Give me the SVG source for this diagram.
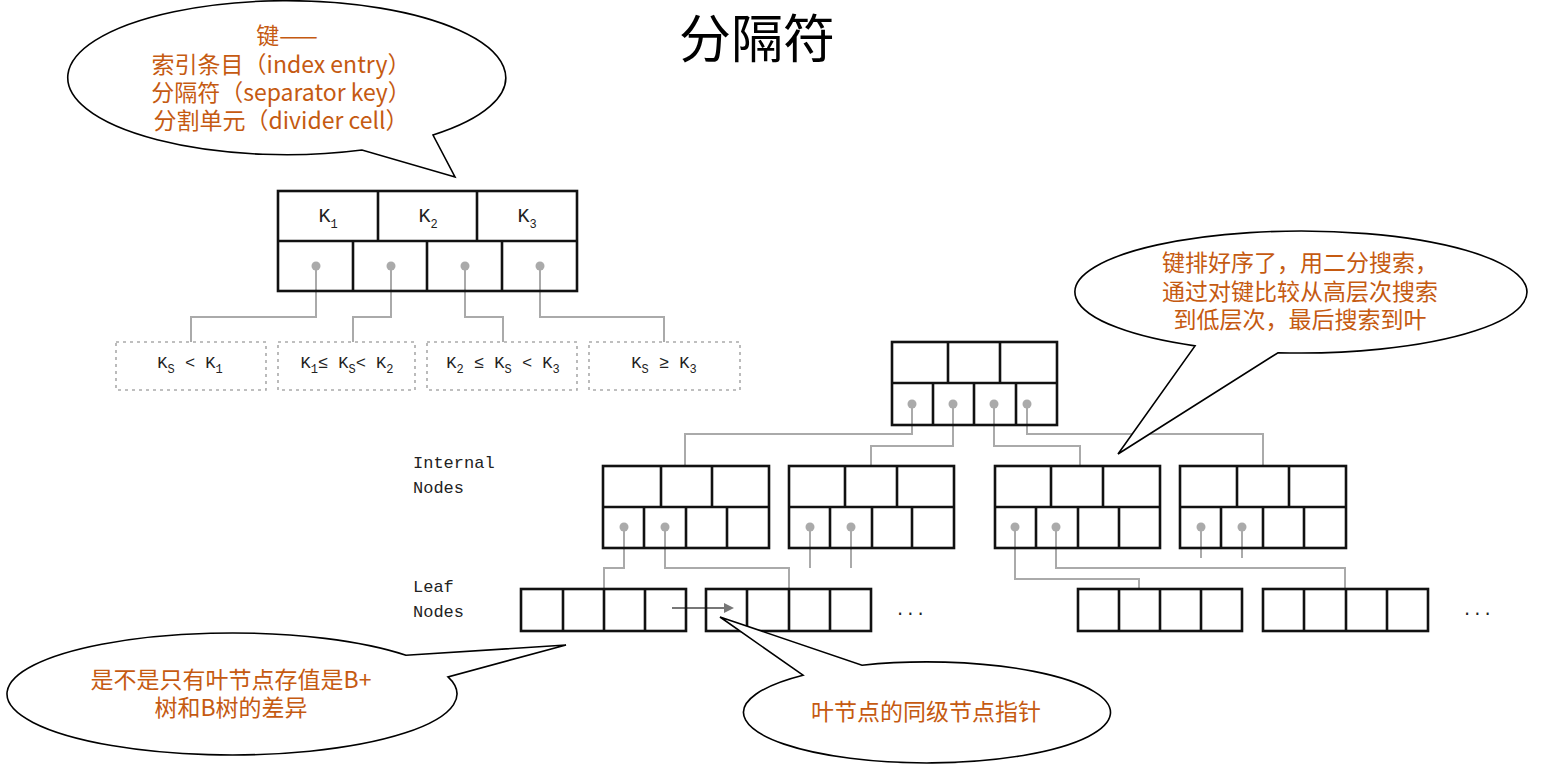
<svg xmlns="http://www.w3.org/2000/svg" width="1545" height="770" viewBox="0 0 1545 770">
<style>
.cell{fill:none;stroke:#111;stroke-width:2.6}
.div{stroke:#111;stroke-width:2.6;fill:none}
.con{stroke:#aaa;stroke-width:2;fill:none}
.dot{fill:#aaa}
.dash{fill:none;stroke:#aaa;stroke-width:1.6;stroke-dasharray:3 4}
.mono{font-family:"Liberation Mono","DejaVu Sans Mono",monospace;fill:#222}
.key{font-size:20px;text-anchor:middle}
.cond{font-size:17px;text-anchor:middle}
.lbl{font-size:17px}
.sub{font-size:12px}
.bub{fill:#fff;stroke:#000;stroke-width:1.6}
.cn{font-family:"Microsoft YaHei","Noto Sans CJK SC","Noto Sans",sans-serif;font-size:23px;fill:#c55a11;text-anchor:middle}
</style>
<defs>
<marker id="ah" markerWidth="10" markerHeight="10" refX="8" refY="5" orient="auto" markerUnits="userSpaceOnUse">
<path d="M0,0 L10,5 L0,10 Z" fill="#777"/>
</marker>
</defs>
<rect width="1545" height="770" fill="#fff"/>
<text x="757" y="58" font-family="'Microsoft YaHei','Noto Sans CJK SC',sans-serif" font-size="52" text-anchor="middle" fill="#000">分隔符</text>

<g id="connectors">
<path class="con" d="M316,266 V317 H191 V342"/>
<path class="con" d="M391,266 V317 H353 V342"/>
<path class="con" d="M465,266 V317 H503 V342"/>
<path class="con" d="M540,266 V317 H664 V342"/>
<path class="con" d="M912,404 V434 H685 V466"/>
<path class="con" d="M953,404 V446 H871 V466"/>
<path class="con" d="M994,404 V446 H1080 V466"/>
<path class="con" d="M1027,404 V434 H1263 V466"/>
<path class="con" d="M624,527 V568 H604 V589"/>
<path class="con" d="M665,527 V568 H789 V589"/>
<path class="con" d="M810,527 V568"/>
<path class="con" d="M851,527 V568"/>
<path class="con" d="M1015,527 V579 H1139 V589"/>
<path class="con" d="M1056,527 V568 H1345 V589"/>
<path class="con" d="M1201,527 V558"/>
<path class="con" d="M1242,527 V558"/>
<line x1="672" y1="608" x2="732" y2="608" stroke="#777" stroke-width="2.2" marker-end="url(#ah)"/>
</g>

<g id="top-node">
<rect class="cell" x="278" y="191" width="299" height="100"/>
<path class="div" d="M278,241 H577 M378,191 V241 M477,191 V241 M353,241 V291 M427,241 V291 M502,241 V291"/>
<text class="mono key" x="328" y="222">K<tspan class="sub" dy="6">1</tspan></text>
<text class="mono key" x="428" y="222">K<tspan class="sub" dy="6">2</tspan></text>
<text class="mono key" x="527" y="222">K<tspan class="sub" dy="6">3</tspan></text>
<circle class="dot" cx="316" cy="266" r="4.5"/>
<circle class="dot" cx="391" cy="266" r="4.5"/>
<circle class="dot" cx="465" cy="266" r="4.5"/>
<circle class="dot" cx="540" cy="266" r="4.5"/>
</g>

<g id="range1"><rect class="dash" x="116" y="342" width="150" height="48"/>
<text class="mono cond" x="190" y="368">K<tspan class="sub" dy="5">S</tspan><tspan dy="-5"> &lt; K</tspan><tspan class="sub" dy="5">1</tspan></text></g>
<g id="range2"><rect class="dash" x="278" y="342" width="137" height="48"/>
<text class="mono cond" x="347" y="368">K<tspan class="sub" dy="5">1</tspan><tspan dy="-5">≤ K</tspan><tspan class="sub" dy="5">S</tspan><tspan dy="-5">&lt; K</tspan><tspan class="sub" dy="5">2</tspan></text></g>
<g id="range3"><rect class="dash" x="427" y="342" width="150" height="48"/>
<text class="mono cond" x="503" y="368">K<tspan class="sub" dy="5">2</tspan><tspan dy="-5"> ≤ K</tspan><tspan class="sub" dy="5">S</tspan><tspan dy="-5"> &lt; K</tspan><tspan class="sub" dy="5">3</tspan></text></g>
<g id="range4"><rect class="dash" x="589" y="342" width="151" height="48"/>
<text class="mono cond" x="664" y="368">K<tspan class="sub" dy="5">S</tspan><tspan dy="-5"> ≥ K</tspan><tspan class="sub" dy="5">3</tspan></text></g>

<g id="root">
<rect class="cell" x="892" y="342" width="165" height="83"/>
<path class="div" d="M892,383 H1057 M948,342 V383 M1000,342 V383 M933,383 V425 M974,383 V425 M1016,383 V425"/>
<circle class="dot" cx="912" cy="404" r="4.5"/>
<circle class="dot" cx="953" cy="404" r="4.5"/>
<circle class="dot" cx="994" cy="404" r="4.5"/>
<circle class="dot" cx="1027" cy="404" r="4.5"/>
</g>

<g id="internal1">
<rect class="cell" x="603" y="466" width="166" height="82"/>
<path class="div" d="M603,507 H769 M661,466 V507 M712,466 V507 M644,507 V548 M686,507 V548 M727,507 V548"/>
<circle class="dot" cx="624" cy="527" r="4.5"/><circle class="dot" cx="665" cy="527" r="4.5"/>
</g>
<g id="internal2">
<rect class="cell" x="789" y="466" width="165" height="82"/>
<path class="div" d="M789,507 H954 M845,466 V507 M897,466 V507 M830,507 V548 M872,507 V548 M912,507 V548"/>
<circle class="dot" cx="810" cy="527" r="4.5"/><circle class="dot" cx="851" cy="527" r="4.5"/>
</g>
<g id="internal3">
<rect class="cell" x="995" y="466" width="165" height="82"/>
<path class="div" d="M995,507 H1160 M1051,466 V507 M1103,466 V507 M1036,507 V548 M1078,507 V548 M1119,507 V548"/>
<circle class="dot" cx="1015" cy="527" r="4.5"/><circle class="dot" cx="1056" cy="527" r="4.5"/>
</g>
<g id="internal4">
<rect class="cell" x="1180" y="466" width="166" height="82"/>
<path class="div" d="M1180,507 H1346 M1237,466 V507 M1289,466 V507 M1221,507 V548 M1263,507 V548 M1304,507 V548"/>
<circle class="dot" cx="1201" cy="527" r="4.5"/><circle class="dot" cx="1242" cy="527" r="4.5"/>
</g>

<g id="leaf1"><rect class="cell" x="521" y="589" width="165" height="42"/><path class="div" d="M563,589 V631 M604,589 V631 M645,589 V631"/></g>
<g id="leaf2"><rect class="cell" x="706" y="589" width="165" height="42"/><path class="div" d="M747,589 V631 M789,589 V631 M830,589 V631"/></g>
<g id="leaf3"><rect class="cell" x="1078" y="589" width="164" height="42"/><path class="div" d="M1119,589 V631 M1160,589 V631 M1201,589 V631"/></g>
<g id="leaf4"><rect class="cell" x="1263" y="589" width="165" height="42"/><path class="div" d="M1304,589 V631 M1346,589 V631 M1387,589 V631"/></g>

<g id="labels">
<text class="mono lbl" x="413" y="468">Internal</text>
<text class="mono lbl" x="413" y="493">Nodes</text>
<text class="mono lbl" x="413" y="592">Leaf</text>
<text class="mono lbl" x="413" y="617">Nodes</text>
<text class="mono lbl" x="895" y="615">...</text>
<text class="mono lbl" x="1462" y="615">...</text>
</g>

<g id="callout-key">
<path class="bub" d="M362,150 A219,77 0 1 1 433,135 L455,177 Z"/>
<text class="cn" x="287" y="44">键——</text>
<text class="cn" x="281" y="73">索引条目（index entry）</text>
<text class="cn" x="281" y="101">分隔符（separator key）</text>
<text class="cn" x="281" y="129">分割单元（divider cell）</text>
</g>

<g id="callout-search">
<path class="bub" d="M1195,345.9 A226,61 0 1 1 1278,352.7 L1118,454 Z"/>
<text class="cn" x="1300" y="271">键排好序了，用二分搜索，</text>
<text class="cn" x="1300" y="300">通过对键比较从高层次搜索</text>
<text class="cn" x="1300" y="328">到低层次，最后搜索到叶</text>
</g>

<g id="callout-leaf">
<path class="bub" d="M448,676.9 A225,61 0 1 1 406,655.3 L566,645 Z"/>
<text class="cn" x="231" y="688">是不是只有叶节点存值是B+</text>
<text class="cn" x="231" y="716">树和B树的差异</text>
</g>

<g id="callout-sibling">
<path class="bub" d="M862,665.2 A183.5,50.5 0 1 1 803,675.2 L720,617 Z"/>
<text class="cn" x="926" y="720">叶节点的同级节点指针</text>
</g>
</svg>
